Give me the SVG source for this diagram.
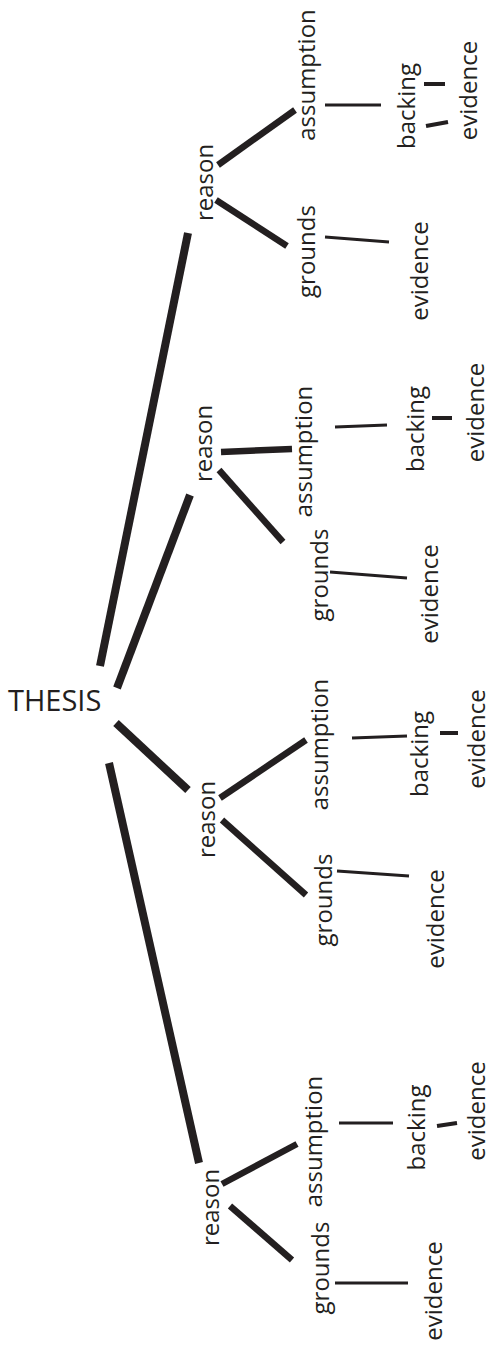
<svg xmlns="http://www.w3.org/2000/svg" width="491" height="1347" viewBox="0 0 491 1347">
<style>
  .bg { fill: #ffffff; }
  .t { font-family: "Open Sans", "Liberation Sans", sans-serif; font-size: 24px; fill: #231f20; text-anchor: middle; }
  .thesis { font-family: "Open Sans", "Liberation Sans", sans-serif; font-size: 29px; fill: #231f20; }
  .c { stroke: #231f20; fill: none; stroke-linecap: butt; }
  .w1 { stroke-width: 8; }
  .w2 { stroke-width: 6.5; }
  .w3 { stroke-width: 3.2; }
  .w4 { stroke-width: 4; }
</style>
<rect class="bg" x="0" y="0" width="491" height="1347"/>
<g id="connectors">
  <line class="c w1" x1="100" y1="666" x2="188" y2="233"/>
  <line class="c w1" x1="117" y1="688" x2="190" y2="495"/>
  <line class="c w1" x1="116" y1="723" x2="188" y2="790"/>
  <line class="c w1" x1="109" y1="763" x2="199" y2="1163"/>
  <!-- group 1 -->
  <line class="c w2" x1="218" y1="165" x2="295" y2="110"/>
  <line class="c w2" x1="216" y1="200" x2="287" y2="246"/>
  <line class="c w3" x1="325" y1="105" x2="381" y2="105"/>
  <line class="c w4" x1="424" y1="84" x2="445" y2="84"/>
  <line class="c w4" x1="426" y1="126" x2="448" y2="122"/>
  <line class="c w3" x1="325" y1="237" x2="389" y2="242"/>
  <!-- group 2 -->
  <line class="c w2" x1="221" y1="452" x2="292" y2="449"/>
  <line class="c w2" x1="219" y1="470" x2="283" y2="542"/>
  <line class="c w3" x1="335" y1="427" x2="387" y2="425"/>
  <line class="c w4" x1="432" y1="418" x2="452" y2="418"/>
  <line class="c w3" x1="330" y1="572" x2="407" y2="578"/>
  <!-- group 3 -->
  <line class="c w2" x1="220" y1="798" x2="306" y2="740"/>
  <line class="c w2" x1="222" y1="820" x2="306" y2="895"/>
  <line class="c w3" x1="352" y1="738" x2="407" y2="736"/>
  <line class="c w4" x1="440" y1="733" x2="458" y2="733"/>
  <line class="c w3" x1="337" y1="871" x2="409" y2="876"/>
  <!-- group 4 -->
  <line class="c w2" x1="222" y1="1184" x2="297" y2="1144"/>
  <line class="c w2" x1="230" y1="1206" x2="292" y2="1260"/>
  <line class="c w3" x1="339" y1="1123" x2="393" y2="1123"/>
  <line class="c w4" x1="437" y1="1126" x2="457" y2="1123"/>
  <line class="c w3" x1="335" y1="1283" x2="408" y2="1283"/>
</g>
<g id="thesis"><text class="thesis" x="8" y="711">THESIS</text></g>
<g id="g1">
  <g id="reason1"><text class="t" transform="translate(213,182.5) rotate(-90)">reason</text></g>
  <g id="assumption1"><text class="t" transform="translate(315,75) rotate(-90)">assumption</text></g>
  <g id="grounds1"><text class="t" transform="translate(315,251.5) rotate(-90)">grounds</text></g>
  <g id="backing1"><text class="t" transform="translate(415,106) rotate(-90)">backing</text></g>
  <g id="evidence1a"><text class="t" transform="translate(477,90.5) rotate(-90)">evidence</text></g>
  <g id="evidence1b"><text class="t" transform="translate(428,271) rotate(-90)">evidence</text></g>
</g>
<g id="g2">
  <g id="reason2"><text class="t" transform="translate(212,443.5) rotate(-90)">reason</text></g>
  <g id="assumption2"><text class="t" transform="translate(312,451.5) rotate(-90)">assumption</text></g>
  <g id="grounds2"><text class="t" transform="translate(328,575) rotate(-90)">grounds</text></g>
  <g id="backing2"><text class="t" transform="translate(424,429) rotate(-90)">backing</text></g>
  <g id="evidence2a"><text class="t" transform="translate(484,412.5) rotate(-90)">evidence</text></g>
  <g id="evidence2b"><text class="t" transform="translate(438,594) rotate(-90)">evidence</text></g>
</g>
<g id="g3">
  <g id="reason3"><text class="t" transform="translate(215,819.5) rotate(-90)">reason</text></g>
  <g id="assumption3"><text class="t" transform="translate(328,744.5) rotate(-90)">assumption</text></g>
  <g id="grounds3"><text class="t" transform="translate(332,900) rotate(-90)">grounds</text></g>
  <g id="backing3"><text class="t" transform="translate(428,754) rotate(-90)">backing</text></g>
  <g id="evidence3a"><text class="t" transform="translate(485,739) rotate(-90)">evidence</text></g>
  <g id="evidence3b"><text class="t" transform="translate(444,919) rotate(-90)">evidence</text></g>
</g>
<g id="g4">
  <g id="reason4"><text class="t" transform="translate(219,1207.5) rotate(-90)">reason</text></g>
  <g id="assumption4"><text class="t" transform="translate(322,1141.5) rotate(-90)">assumption</text></g>
  <g id="grounds4"><text class="t" transform="translate(329,1268) rotate(-90)">grounds</text></g>
  <g id="backing4"><text class="t" transform="translate(425,1127.5) rotate(-90)">backing</text></g>
  <g id="evidence4a"><text class="t" transform="translate(485,1111) rotate(-90)">evidence</text></g>
  <g id="evidence4b"><text class="t" transform="translate(442,1291) rotate(-90)">evidence</text></g>
</g>
</svg>
